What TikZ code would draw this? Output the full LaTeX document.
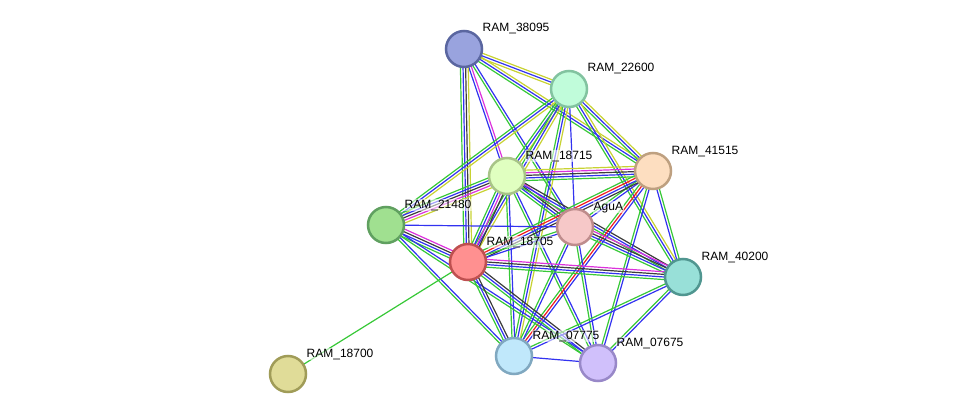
\documentclass[tikz,border=0pt]{standalone}
\usepackage{fontspec}
\setmainfont{Liberation Sans}
\usetikzlibrary{calc,backgrounds}

\definecolor{eg}{RGB}{55,200,55}
\definecolor{eb}{RGB}{50,50,240}
\definecolor{ey}{RGB}{200,210,50}
\definecolor{ek}{RGB}{60,60,60}
\definecolor{em}{RGB}{220,50,220}
\definecolor{er}{RGB}{240,30,30}

\tikzset{
  prot/.style={circle,draw,line width=2.5pt,minimum size=36pt,inner sep=0pt},
  lbl/.style={anchor=base west,inner sep=0.5pt,fill=white,fill opacity=0.55,text opacity=1,font=\fontsize{12}{14}\selectfont}
}

% one bundle of coloured lines between two proteins
\newcommand{\lnk}[3]{%
  \foreach \c [count=\i] in {#3} {\xdef\nlines{\i}}%
  \foreach \c [count=\i] in {#3} {%
    \pgfmathsetmacro{\off}{(\i-(\nlines+1)/2)*2.6}%
    \draw[\c,line width=1.2pt] ($(#1.center)!\off pt!90:(#2.center)$) -- ($(#2.center)!\off pt!-90:(#1.center)$);
  }}

% protein with its name
\newcommand{\protein}[6]{%
  \node[prot,fill=#4,draw=#5] (#1) at (#2,#3) {};
  \node[lbl] (t#1) at ($(#1.center)+(18,-17)$) {#6};}

\begin{document}
\begin{tikzpicture}[x=1pt,y=-1pt]
\useasboundingbox (0,0) rectangle (975,420);

\protein{p38095}{464}{49}{{rgb,255:red,153;green,163;blue,222}}{{rgb,255:red,90;green,102;blue,160}}{RAM\_38095}
\protein{p22600}{569}{89}{{rgb,255:red,192;green,252;blue,218}}{{rgb,255:red,130;green,195;blue,160}}{RAM\_22600}
\protein{p18715}{507}{176}{{rgb,255:red,224;green,255;blue,192}}{{rgb,255:red,168;green,196;blue,136}}{RAM\_18715}
\protein{p41515}{653}{171}{{rgb,255:red,253;green,222;blue,192}}{{rgb,255:red,190;green,160;blue,128}}{RAM\_41515}
\protein{p21480}{386}{225}{{rgb,255:red,160;green,224;blue,144}}{{rgb,255:red,96;green,160;blue,96}}{RAM\_21480}
\protein{pagua}{575}{227}{{rgb,255:red,246;green,200;blue,200}}{{rgb,255:red,190;green,140;blue,140}}{AguA}
\protein{p18705}{468}{262}{{rgb,255:red,255;green,144;blue,144}}{{rgb,255:red,190;green,80;blue,80}}{RAM\_18705}
\protein{p40200}{683}{277}{{rgb,255:red,152;green,224;blue,216}}{{rgb,255:red,80;green,150;blue,144}}{RAM\_40200}
\protein{p07775}{514}{356}{{rgb,255:red,192;green,232;blue,251}}{{rgb,255:red,128;green,168;blue,192}}{RAM\_07775}
\protein{p07675}{598}{363}{{rgb,255:red,208;green,192;blue,251}}{{rgb,255:red,152;green,136;blue,200}}{RAM\_07675}
\protein{p18700}{288}{374}{{rgb,255:red,224;green,220;blue,152}}{{rgb,255:red,160;green,156;blue,88}}{RAM\_18700}

\begin{pgfonlayer}{background}
% RAM_38095
\lnk{p38095}{p22600}{ey,eb,ey}
\lnk{p38095}{p41515}{eg,eb,ey}
\lnk{p38095}{p18715}{eb,em}
\lnk{p38095}{pagua}{eg,eb}
\lnk{p38095}{p18705}{eg,eb,ek,ey}
% RAM_22600
\lnk{p22600}{p41515}{eg,eb,ey}
\lnk{p22600}{p40200}{eg,eb,ey}
\lnk{p22600}{p18715}{eg,eb,ey}
\lnk{p22600}{p21480}{eg,eb,ey}
\lnk{p22600}{p18705}{eg,eb,ey}
\lnk{p22600}{pagua}{eb}
\lnk{p22600}{p07775}{eg,eb,ey}
% RAM_18715
\lnk{p18715}{p41515}{eg,eb,ek,em,ey}
\lnk{p18715}{p21480}{eg,eb,ek,em,ey}
\lnk{p18715}{p18705}{eg,eb,em,ek}
\lnk{p18715}{pagua}{eg,eb,ek,em}
\lnk{p18715}{p40200}{eg,eb,ek}
\lnk{p18715}{p07775}{eg,eb}
\lnk{p18715}{p07675}{eg,eb}
% RAM_41515
\lnk{p41515}{pagua}{eg,eb}
\lnk{p41515}{p18705}{eg,er,eb,ek}
\lnk{p41515}{p07775}{eg,er,eb}
\lnk{p41515}{p07675}{eg,eb}
\lnk{p41515}{p40200}{eb,eg}
% RAM_21480
\lnk{p21480}{pagua}{eb}
\lnk{p21480}{p18705}{eg,eb,ek,em}
\lnk{p21480}{p07775}{eg,eb}
\lnk{p21480}{p07675}{eg,eb}
% AguA
\lnk{pagua}{p18705}{eg,eb}
\lnk{pagua}{p40200}{eg,eb,ek,em}
\lnk{pagua}{p07775}{eg,eb}
\lnk{pagua}{p07675}{eg,eb}
% RAM_18705
\lnk{p18705}{p40200}{eg,eb,ek,em}
\lnk{p18705}{p07775}{eg,eb,ek}
\lnk{p18705}{p07675}{eg,eb,ek}
\lnk{p18705}{p18700}{eg}
% the rest
\lnk{p40200}{p07775}{eg,eb}
\lnk{p40200}{p07675}{eg,eb}
\lnk{p07775}{p07675}{eb}
\end{pgfonlayer}
\end{tikzpicture}
\end{document}
